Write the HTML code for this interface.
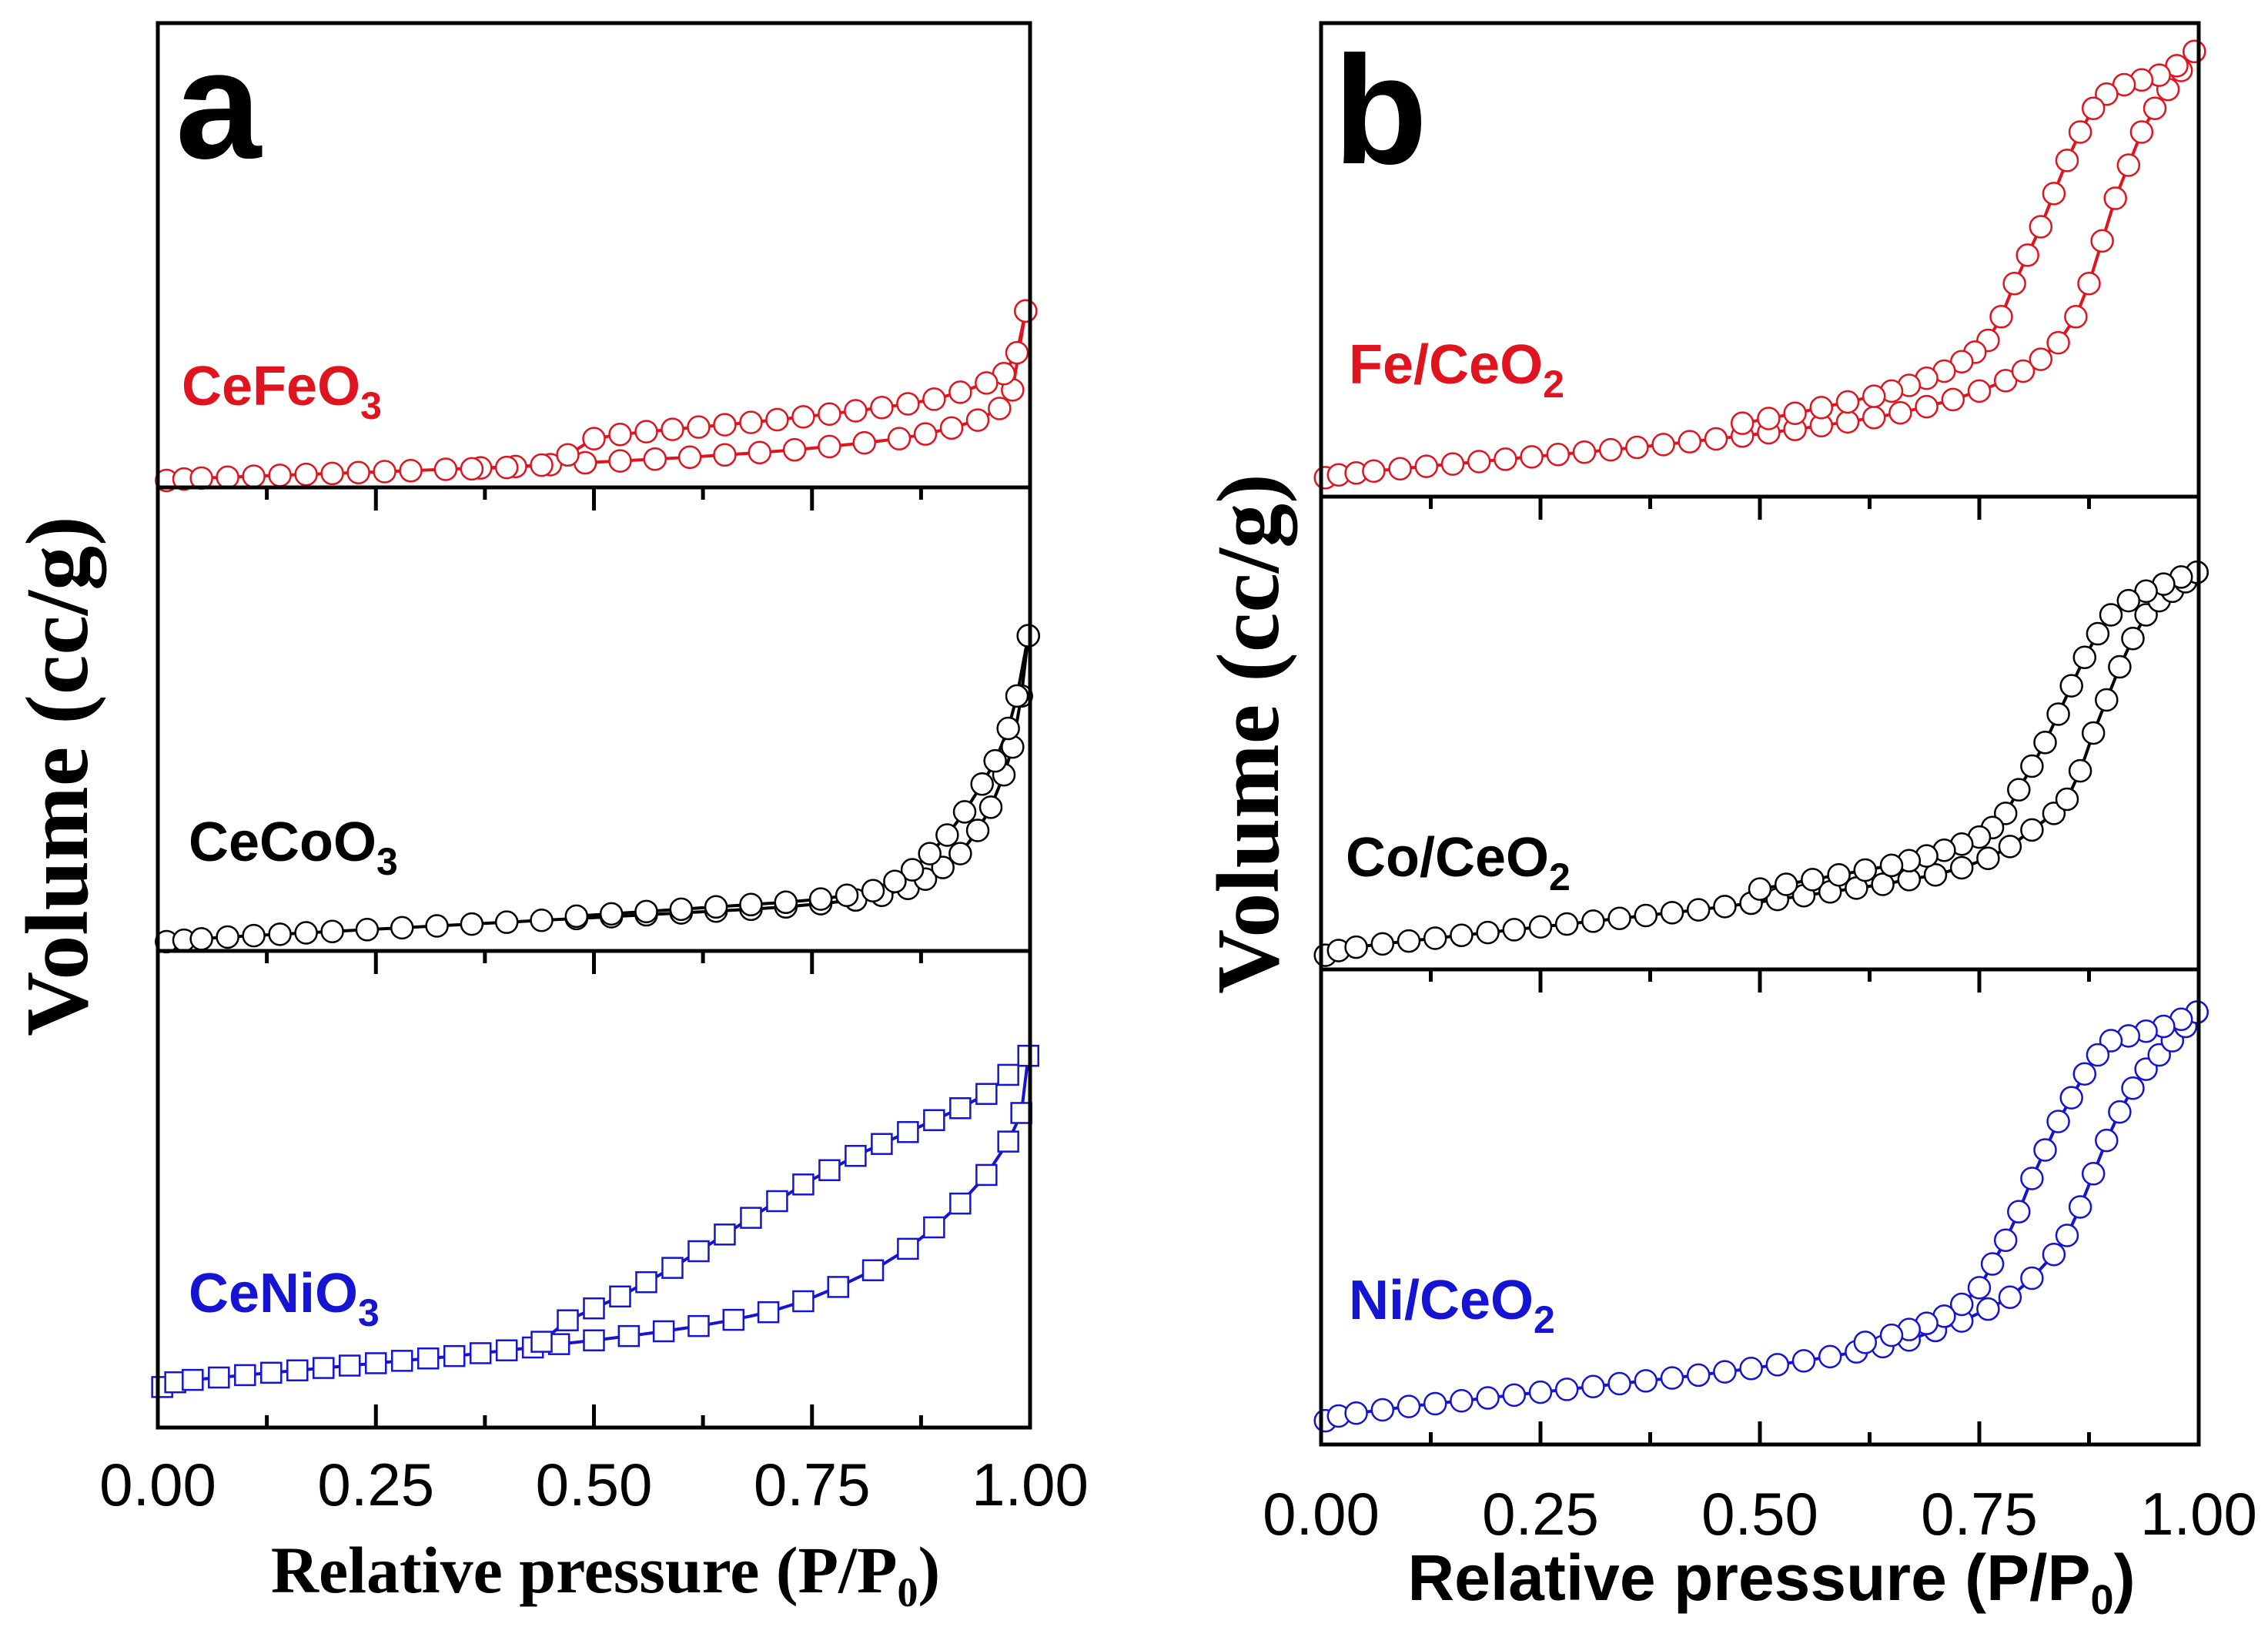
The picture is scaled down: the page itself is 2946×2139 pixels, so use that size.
<!DOCTYPE html>
<html><head><meta charset="utf-8"><style>
html,body{margin:0;padding:0;background:#fff;}
svg{display:block;}
</style></head><body>
<svg id="chart" width="2946" height="2139" viewBox="0 0 2946 2139" xmlns="http://www.w3.org/2000/svg"></svg>
<script>
// ---- Data (x = P/P0, y = relative volume 0-100 within its stacked sub-panel) ----
const xTickLabels = ["0.00","0.25","0.50","0.75","1.00"];
const xTickValues = [0, 0.25, 0.5, 0.75, 1.0];

const feoAdsX = [0.01,0.03,0.05,0.08,0.11,0.14,0.17,0.20,0.23,0.26,0.29,0.33,0.37,0.41,0.45,0.49,0.53,0.57,0.61,0.65,0.69,0.73,0.77,0.81,0.85,0.88,0.91,0.94,0.965,0.98,0.995];
const feoAdsY = [1.5,1.8,2,2.2,2.4,2.6,2.8,3,3.2,3.4,3.6,3.9,4.2,4.5,4.9,5.3,5.7,6.1,6.5,7,7.5,8.1,8.8,9.6,10.5,11.5,12.8,14.5,17,21,38];
const feoDesX = [0.995,0.985,0.97,0.95,0.92,0.89,0.86,0.83,0.80,0.77,0.74,0.71,0.68,0.65,0.62,0.59,0.56,0.53,0.50,0.47,0.44,0.40,0.36];
const feoDesY = [38,29,24.5,22.5,20.5,19,18,17.2,16.5,15.8,15.2,14.6,14,13.5,13,12.5,12,11.4,10.5,7,4.8,4.3,4];

const cooAdsX = [0.01,0.03,0.05,0.08,0.11,0.14,0.17,0.20,0.24,0.28,0.32,0.36,0.40,0.44,0.48,0.52,0.56,0.60,0.64,0.68,0.72,0.76,0.80,0.83,0.86,0.88,0.90,0.92,0.94,0.955,0.97,0.98,0.99,0.998];
const cooAdsY = [2,2.3,2.6,3,3.3,3.6,3.9,4.2,4.6,5,5.4,5.8,6.2,6.6,7,7.4,7.8,8.2,8.6,9,9.5,10.2,11,12,13.5,15.5,18,21,26,31,38,44,55,68];
const cooDesX = [0.998,0.985,0.975,0.96,0.945,0.925,0.905,0.885,0.865,0.845,0.82,0.79,0.76,0.72,0.68,0.64,0.60,0.56,0.52,0.48];
const cooDesY = [68,55,48,41,36,30,25,21,17.5,15,13,12,11.2,10.5,10,9.5,9,8.5,8,7.5];

const nioAdsX = [0.005,0.02,0.04,0.07,0.10,0.13,0.16,0.19,0.22,0.25,0.28,0.31,0.34,0.37,0.40,0.43,0.46,0.50,0.54,0.58,0.62,0.66,0.70,0.74,0.78,0.82,0.86,0.89,0.92,0.95,0.975,0.99,0.998];
const nioAdsY = [8.5,9.5,10,10.5,11,11.5,12,12.5,13,13.5,14,14.5,15,15.6,16.2,16.8,17.5,18.3,19.2,20.2,21.3,22.6,24.2,26.5,29.5,33,37.5,42,47,53,60,66,78];
const nioDesX = [0.998,0.975,0.95,0.92,0.89,0.86,0.83,0.80,0.77,0.74,0.71,0.68,0.65,0.62,0.59,0.56,0.53,0.50,0.47,0.44];
const nioDesY = [78,74,70,67,64.5,62,59.5,57,54,51,47.5,44,40.5,37,33.5,30.5,27.5,25,22.5,18];

const feAdsX = [0.005,0.02,0.04,0.06,0.09,0.12,0.15,0.18,0.21,0.24,0.27,0.30,0.33,0.36,0.39,0.42,0.45,0.48,0.51,0.54,0.57,0.60,0.63,0.66,0.69,0.72,0.75,0.78,0.80,0.82,0.84,0.86,0.875,0.89,0.905,0.92,0.935,0.95,0.965,0.98,0.995];
const feAdsY = [4,4.6,5,5.4,5.9,6.4,6.9,7.4,7.9,8.4,8.9,9.4,9.9,10.4,11,11.6,12.2,12.8,13.5,14.2,15,15.8,16.7,17.7,19,20.5,22.3,24.5,26.5,29,32.5,38,45,54,63,70,77,82,86,90,94];
const feDesX = [0.995,0.975,0.955,0.935,0.915,0.895,0.88,0.865,0.85,0.835,0.82,0.805,0.79,0.775,0.76,0.745,0.73,0.71,0.69,0.67,0.65,0.63,0.60,0.57,0.54,0.51,0.48];
const feDesY = [94,91,89,88,87,85,82,77,71,64,57,51,45,38,33,30.5,28.5,26.5,25,23.5,22.3,21.2,20,18.8,17.6,16.5,15.5];

const coAdsX = [0.005,0.02,0.04,0.07,0.10,0.13,0.16,0.19,0.22,0.25,0.28,0.31,0.34,0.37,0.40,0.43,0.46,0.49,0.52,0.55,0.58,0.61,0.64,0.67,0.70,0.73,0.76,0.785,0.81,0.835,0.85,0.865,0.88,0.895,0.91,0.925,0.94,0.955,0.97,0.985,0.998];
const coAdsY = [3,4,4.7,5.4,6,6.6,7.2,7.8,8.4,9,9.6,10.2,10.8,11.4,12,12.6,13.3,14,14.8,15.6,16.4,17.2,18,19,20,21.5,23.5,26,29.5,33,36,42,50,57,64,70,75,78,80,82,84];
const coDesX = [0.998,0.98,0.96,0.94,0.92,0.90,0.885,0.87,0.855,0.84,0.825,0.81,0.795,0.78,0.765,0.75,0.73,0.71,0.69,0.67,0.65,0.62,0.59,0.56,0.53,0.50];
const coDesY = [84,83,81.5,80,78,75,71,66,60,54,48,43,38,33,30,28,26.5,25.2,24,23,22,21,20,19,18,17];

const niAdsX = [0.005,0.02,0.04,0.07,0.10,0.13,0.16,0.19,0.22,0.25,0.28,0.31,0.34,0.37,0.40,0.43,0.46,0.49,0.52,0.55,0.58,0.61,0.64,0.67,0.70,0.73,0.76,0.785,0.81,0.835,0.85,0.865,0.88,0.895,0.91,0.925,0.94,0.955,0.97,0.985,0.998];
const niAdsY = [5,6,6.6,7.3,8,8.6,9.2,9.8,10.4,11,11.6,12.2,12.8,13.4,14,14.6,15.3,16,16.8,17.6,18.5,19.5,20.6,22,24,26,28.5,31,35,40,44,50,57,64,70,75,79,82,85,88,91];
const niDesX = [0.998,0.98,0.96,0.94,0.92,0.90,0.885,0.87,0.855,0.84,0.825,0.81,0.795,0.78,0.765,0.75,0.73,0.71,0.69,0.67,0.65,0.62];
const niDesY = [91,89.5,88,87,86,85,82,78,73,68,62,56,49,43,38,33,29.5,27,25.5,24.2,23,21.5];

const NS = "http://www.w3.org/2000/svg";
const svg = document.getElementById("chart");
function mk(tag, attrs, parent){
  const e = document.createElementNS(NS, tag);
  for (const k in attrs) e.setAttribute(k, attrs[k]);
  (parent||svg).appendChild(e);
  return e;
}

const panels = [
  {id:"a", x0:205, x1:1338, sub:[[30,633],[633,1235],[1235,1854]], tickY:1955, titleY:2068, serifTitle:true, yTitleX:75, yShift:66, letterX:228, letterY:205,
   series:[
     {name:"CeFeO3", label:"CeFeO", sub:"3", color:"#e0141e", marker:"circle", ax:feoAdsX, ay:feoAdsY, dx:feoDesX, dy:feoDesY, lx:236, ly:526},
     {name:"CeCoO3", label:"CeCoO", sub:"3", color:"#000000", marker:"circle", ax:cooAdsX, ay:cooAdsY, dx:cooDesX, dy:cooDesY, lx:245, ly:1118},
     {name:"CeNiO3", label:"CeNiO", sub:"3", color:"#1414d2", marker:"square", ax:nioAdsX, ay:nioAdsY, dx:nioDesX, dy:nioDesY, lx:245, ly:1704}
   ]},
  {id:"b", x0:1716, x1:2856, sub:[[30,645],[645,1259],[1259,1876]], tickY:1993, titleY:2078, serifTitle:false, yTitleX:1622, yShift:0, letterX:1732, letterY:212,
   series:[
     {name:"Fe-CeO2", label:"Fe/CeO", sub:"2", color:"#e0141e", marker:"circle", ax:feAdsX, ay:feAdsY, dx:feDesX, dy:feDesY, lx:1752, ly:498},
     {name:"Co-CeO2", label:"Co/CeO", sub:"2", color:"#000000", marker:"circle", ax:coAdsX, ay:coAdsY, dx:coDesX, dy:coDesY, lx:1748, ly:1138},
     {name:"Ni-CeO2", label:"Ni/CeO", sub:"2", color:"#1414d2", marker:"circle", ax:niAdsX, ay:niAdsY, dx:niDesX, dy:niDesY, lx:1752, ly:1713}
   ]}
];

panels.forEach(p => {
  const g = mk("g", {});
  
  
  const xs = v => p.x0 + v * (p.x1 - p.x0);

  p.series.forEach((s, i) => {
    const [t, b] = p.sub[i];
    const ys = v => b - v / 100 * (b - t);
    const sg = mk("g", {}, g);
    
    
    [[s.ax, s.ay, "adsorption"], [s.dx, s.dy, "desorption"]].forEach(([X, Y, kind]) => {
      const pts = X.map((x, k) => xs(x).toFixed(1) + "," + ys(Y[k]).toFixed(1)).join(" ");
      const pl = mk("polyline", {points: pts, fill: "none", stroke: s.color, "stroke-width": 4}, sg);
      
      
    });
    [[s.ax, s.ay, "adsorption"], [s.dx, s.dy, "desorption"]].forEach(([X, Y, kind]) => {
      X.forEach((x, k) => {
        let m;
        if (s.marker === "circle") {
          m = mk("circle", {cx: xs(x), cy: ys(Y[k]), r: 14, fill: "#fff", stroke: s.color, "stroke-width": 2.5}, sg);
        } else {
          m = mk("rect", {x: xs(x) - 13, y: ys(Y[k]) - 13, width: 26, height: 26, fill: "#fff", stroke: s.color, "stroke-width": 2.5}, sg);
        }
        
        
      });
    });
    const lab = mk("text", {x: s.lx, y: s.ly, fill: s.color, "font-family": "Liberation Sans, Arial, sans-serif", "font-weight": "bold", "font-size": 72}, g);
    
    
    lab.appendChild(document.createTextNode(s.label));
    const ts = mk("tspan", {"font-size": 50, dy: 18}, lab);
    ts.textContent = s.sub;
  });

  const fr = mk("rect", {x: p.x0, y: p.sub[0][0], width: p.x1 - p.x0, height: p.sub[2][1] - p.sub[0][0], fill: "none", stroke: "#000", "stroke-width": 5}, g);
  
  
  [p.sub[0][1], p.sub[1][1]].forEach(yd => {
    const l = mk("line", {x1: p.x0, x2: p.x1, y1: yd, y2: yd, stroke: "#000", "stroke-width": 5}, g);
    
    
    for (let k = 1; k < 8; k++) {
      const len = k % 2 === 0 ? 30 : 16;
      const tk = mk("line", {x1: xs(k / 8), x2: xs(k / 8), y1: yd, y2: yd + len, stroke: "#000", "stroke-width": 5}, g);
      
      
    }
  });
  const yb = p.sub[2][1];
  for (let k = 1; k < 8; k++) {
    const len = k % 2 === 0 ? 30 : 16;
    const tk = mk("line", {x1: xs(k / 8), x2: xs(k / 8), y1: yb, y2: yb - len, stroke: "#000", "stroke-width": 5}, g);
    
    
  }
  xTickValues.forEach((v, k) => {
    const t = mk("text", {x: xs(v), y: p.tickY, "text-anchor": "middle", "font-family": "Liberation Sans, Arial, sans-serif", "font-size": 78, fill: "#000"}, g);
    
    
    t.textContent = xTickLabels[k];
  });

  const xt = mk("text", {x: (p.x0 + p.x1) / 2 + 15, y: p.titleY, "text-anchor": "middle",
    "font-family": p.serifTitle ? "Liberation Serif, serif" : "Liberation Sans, Arial, sans-serif",
    "font-weight": "bold", "font-size": p.serifTitle ? 86 : 84, fill: "#000"}, g);
  
  
  xt.appendChild(document.createTextNode("Relative pressure (P/P"));
  const s0 = mk("tspan", {"font-size": 54, dy: 18}, xt); s0.textContent = "0";
  const s1 = mk("tspan", {dy: -18}, xt); s1.textContent = ")";

  const cy = (p.sub[0][0] + p.sub[2][1]) / 2 + p.yShift;
  const yt = mk("text", {x: p.yTitleX, y: cy, "text-anchor": "middle", "dominant-baseline": "central",
    transform: "rotate(-90 " + p.yTitleX + " " + cy + ")", "font-family": "Liberation Serif, serif", "font-weight": "bold", "font-size": 116, fill: "#000"}, g);
  
  
  yt.textContent = "Volume (cc/g)";

  const lt = mk("text", {x: p.letterX, y: p.letterY, "font-family": "Liberation Sans, Arial, sans-serif", "font-weight": "bold", "font-size": 200, fill: "#000"}, g);
  
  
  lt.textContent = p.id;
});
</script>
</body></html>
